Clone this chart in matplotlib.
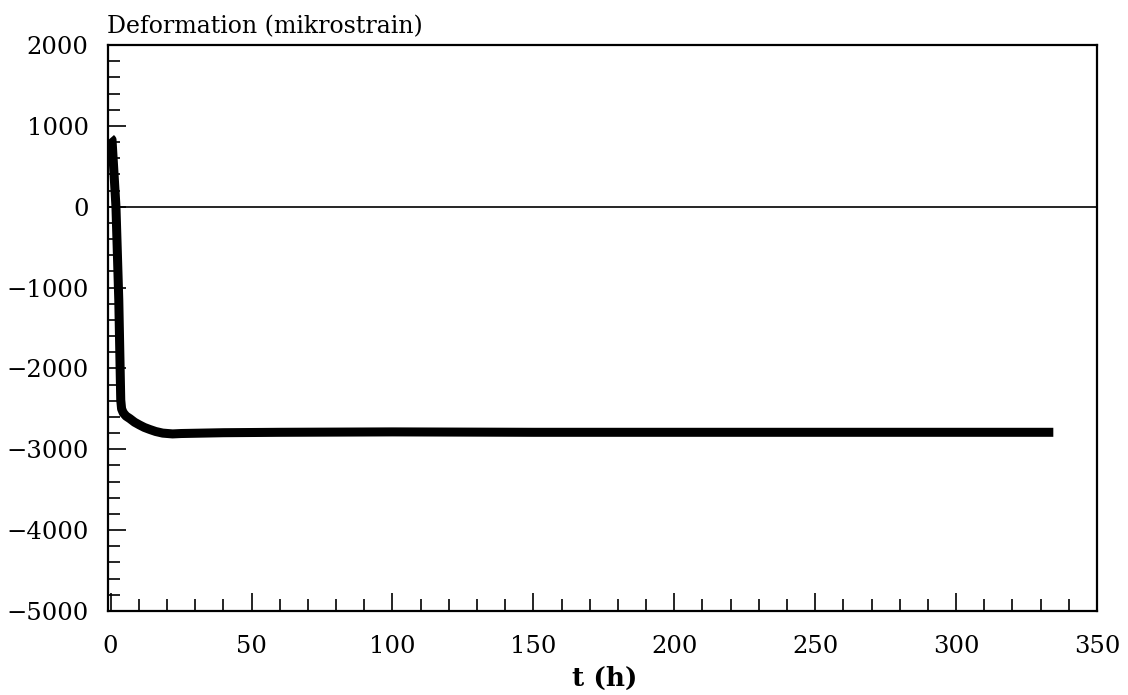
import matplotlib
matplotlib.use("Agg")
import matplotlib.pyplot as plt
from matplotlib.ticker import MultipleLocator

# Data
t_hours = [0, 0.5, 1.9, 2.9, 3.6, 3.9, 4.5, 5.5, 6.8, 8.5, 10.3, 12.0, 13.9, 16.0, 18.5, 22, 25, 40, 60, 100, 150, 200, 250, 300, 334.5]
strain = [850, 830, 0, -1150, -2390, -2500, -2550, -2590, -2620, -2665, -2700, -2730, -2755, -2780, -2800, -2810, -2805, -2795, -2790, -2785, -2790, -2790, -2790, -2790, -2790]
x_ticks = [0, 50, 100, 150, 200, 250, 300, 350]
y_ticks = [2000, 1000, 0, -1000, -2000, -3000, -4000, -5000]
y_tick_labels = ["2000", "1000", "0", "\u22121000", "\u22122000", "\u22123000", "\u22124000", "\u22125000"]

plt.rcParams['font.family'] = ['DejaVu Serif']

fig = plt.figure(figsize=(11.28, 6.95), dpi=100)
ax = fig.add_axes([107.5/1128, 84/695, (1097-107.5)/1128, (611-45)/695])

ax.axhline(0, color='black', lw=1.2)
ax.plot(t_hours, strain, color='black', lw=6.5, solid_joinstyle='round', solid_capstyle='butt')

ax.set_xlim(-1.1, 349.3)
ax.set_ylim(-5000, 2000)
ax.set_xticks(x_ticks)
ax.set_xticklabels([str(v) for v in x_ticks])
ax.set_yticks(y_ticks)
ax.set_yticklabels(y_tick_labels)
ax.xaxis.set_minor_locator(MultipleLocator(10))
ax.yaxis.set_minor_locator(MultipleLocator(200))

ax.tick_params(axis='both', which='major', direction='in', length=13, width=1.2,
               labelsize=17.5, top=False, right=False)
ax.tick_params(axis='both', which='minor', direction='in', length=8.5, width=1.2,
               top=False, right=False)
ax.tick_params(axis='x', which='major', pad=17.5)
ax.tick_params(axis='y', which='major', pad=13.5)

for s in ax.spines.values():
    s.set_linewidth(1.6)

fig.text(107/1128, 1 - 33/695, "Deformation (mikrostrain)", fontsize=17,
         ha='left', va='baseline')
fig.text(605/1128, 1 - 686/695, "t (h)", fontsize=19, fontweight='bold',
         ha='center', va='baseline')

fig.savefig("out.png", dpi=100)
